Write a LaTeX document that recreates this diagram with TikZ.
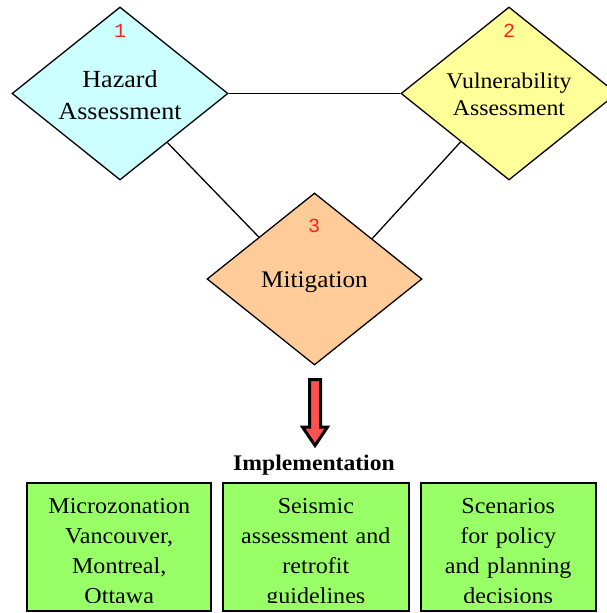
\documentclass[tikz,border=0pt]{standalone}
\usepackage{fontspec}
\setmainfont[FakeStretch=1.06]{Liberation Serif}
\newfontfamily\digitfont{Liberation Mono}
\usetikzlibrary{shapes.geometric,positioning}
\definecolor{hazcyan}{HTML}{CCFFFF}
\definecolor{vulyellow}{HTML}{FFFF99}
\definecolor{mitorange}{HTML}{FFCC99}
\definecolor{boxgreen}{HTML}{99FF66}
\definecolor{arrowred}{HTML}{FF5050}
\definecolor{numred}{HTML}{FF2020}
\begin{document}
\begin{tikzpicture}[x=1pt,y=-1pt,
		diam/.style={diamond,draw,line width=1.3pt,inner sep=0pt,
			minimum width=216pt,minimum height=173pt},
		dtext/.style={text width=200pt,align=center,inner sep=0pt,anchor=base},
		num/.style={text=numred,inner sep=0pt,anchor=base,
			font=\digitfont\fontsize{20}{20}\selectfont},
		impbox/.style={draw,line width=2pt,fill=boxgreen,minimum height=128pt,inner sep=0pt},
		boxtext/.style={text width=180pt,align=center,inner sep=0pt,
			font=\fontsize{22.7}{30}\selectfont},
		every edge/.append style={line width=1.3pt}]
	\useasboundingbox (0,0) rectangle (606,613);
	% the three assessment steps
	\node[diam,fill=hazcyan] (haz) at (120,93.5) {};
	\node[diam,fill=vulyellow] (vul) at (509,93.5) {};
	\node[diam,fill=mitorange,minimum width=215pt,minimum height=172pt] (mit) at (314.5,279) {};
	\path (haz) edge (vul)
		(haz.-46) edge (mit.143)
		(vul.-135) edge (mit.35);
	\node[dtext,font=\fontsize{24.6}{32}\selectfont] (haztxt) at (120,87) {Hazard\\Assessment};
	\node[dtext,font=\fontsize{22.4}{27}\selectfont] (vultxt) at (509,88) {Vulnerability\\Assessment};
	\node[dtext,font=\fontsize{23.8}{28}\selectfont] (mittxt) at (314.5,287) {Mitigation};
	\node[num] (n1) at (120,37) {1};
	\node[num] (n2) at (509,37) {2};
	\node[num] (n3) at (314,232) {3};
	% block arrow
	\draw[line width=3pt,line join=miter,fill=arrowred]
		(309.5,379.5) -- (320.5,379.5) -- (320.5,427) -- (327.5,427)
		-- (315,445.5) -- (302.5,427) -- (309.5,427) -- cycle;
	\node[anchor=base,inner sep=0pt,font=\bfseries\fontsize{22.3}{24}\selectfont] (impl) at (314,470) {Implementation};
	% implementation boxes
	\node[impbox,minimum width=184pt] (micro) at (119.2,546.7) {};
	\node[impbox,minimum width=185.3pt,right=10pt of micro] (retro) {};
	\node[impbox,minimum width=174.7pt,right=10.3pt of retro] (scen) {};
	\begin{scope}
		\clip (0,481) rectangle (606,602);
		\node[boxtext,below=17pt of micro.north] (microtxt) {Microzonation\\Vancouver,\\Montreal,\\Ottawa};
		\node[boxtext,below=17pt of retro.north] (retrotxt) {Seismic\\assessment and\\retrofit\\guidelines};
		\node[boxtext,below=17pt of scen.north] (scentxt) {Scenarios\\for policy\\and planning\\decisions};
	\end{scope}
\end{tikzpicture}
\end{document}
